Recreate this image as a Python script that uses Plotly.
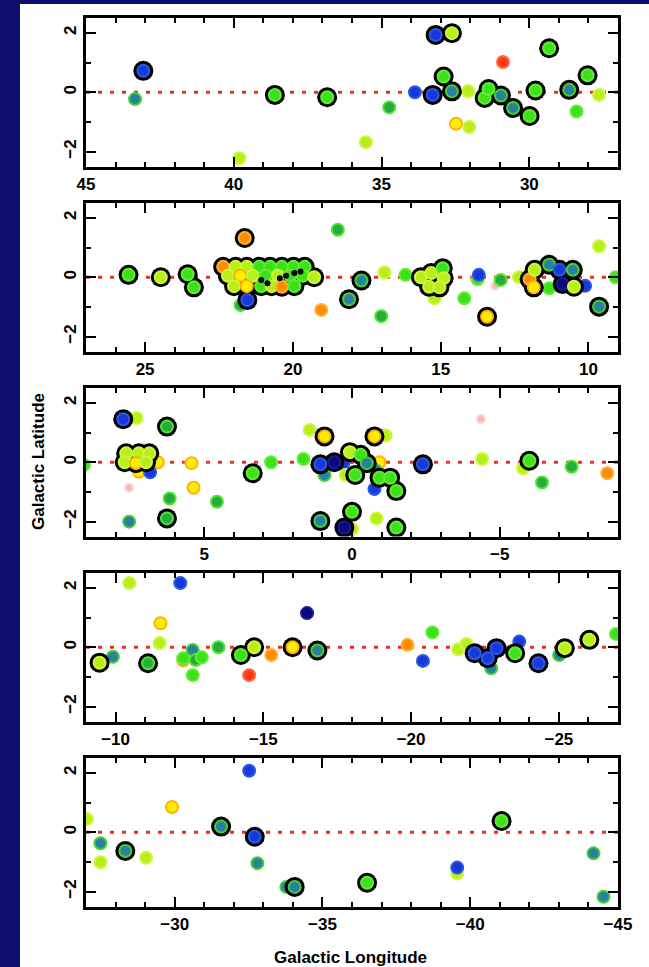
import plotly.graph_objects as go

# ---------------- data (galactic longitude, latitude, colour class, black ring) -------------
p1_lon = [43.06, 43.34, 38.61, 36.84, 39.81, 35.53, 34.74, 33.87, 33.27, 33.17, 32.62, 32.90, 32.62, 32.07,
          32.48, 32.03, 31.51, 31.38, 30.96, 30.89, 30.55, 29.99, 29.79, 29.33, 28.65, 28.40, 28.03, 27.64]
p1_lat = [0.72, -0.23, -0.09, -0.17, -2.22, -1.68, -0.51, 0.0, -0.09, 1.93, 1.99, 0.53, 0.03, 0.03,
          -1.06, -1.17, -0.19, 0.11, -0.11, 1.02, -0.53, -0.80, 0.06, 1.48, 0.08, -0.65, 0.57, -0.09]
p1_col = ['B', 'T', 'G', 'G', 'L', 'L', 'D', 'B', 'B', 'B', 'L', 'G', 'T', 'L',
          'Y', 'L', 'G', 'G', 'T', 'R', 'T', 'G', 'G', 'G', 'T', 'G', 'G', 'L']
p1_ring = [1, 0, 1, 1, 0, 0, 0, 0, 1, 1, 1, 1, 1, 0, 0, 0, 1, 1, 1, 0, 1, 1, 1, 1, 1, 0, 1, 0]

p2_lon = [25.56, 24.47, 23.56, 23.35,
          22.36, 21.94, 21.56, 21.14, 20.77, 20.37, 19.98, 19.60,
          22.20, 21.78, 21.36, 20.93, 20.51, 20.09, 19.67, 19.28,
          21.99, 21.56, 21.07, 20.72, 20.37, 19.95,
          21.77, 21.54, 21.63, 18.48, 19.04, 18.10, 17.68, 16.90, 17.01, 16.19,
          15.67, 15.32, 14.93, 14.90, 15.39, 15.04,
          15.21, 14.20, 13.75, 13.71, 13.43, 13.15, 12.97, 12.35,
          11.99, 11.82, 11.85, 11.33, 10.98, 10.87, 10.53, 10.49, 11.33, 10.11,
          9.64, 9.64, 9.08,
          21.07, 20.86, 20.44, 20.23, 19.95, 19.74]
p2_lat = [0.08, 0.0, 0.10, -0.34,
          0.35, 0.35, 0.35, 0.35, 0.35, 0.35, 0.35, 0.35,
          0.05, 0.05, 0.05, 0.05, 0.05, 0.05, 0.05, 0.0,
          -0.30, -0.30, -0.30, -0.30, -0.32, -0.30,
          -0.94, -0.77, 1.32, 1.60, -1.10, -0.74, -0.11, 0.16, -1.31, 0.08,
          0.0, 0.14, 0.30, -0.03, -0.32, -0.34,
          -0.71, -0.71, -0.07, 0.08, -1.33, -0.29, -0.09, 0.0,
          -0.07, 0.25, -0.34, 0.42, 0.25, -0.23, 0.25, -0.32, -0.37, -0.29,
          1.04, -0.99, 0.0,
          -0.09, -0.20, -0.03, 0.05, 0.14, 0.19]
p2_col = ['G', 'L', 'G', 'G',
          'O', 'L', 'L', 'G', 'G', 'G', 'G', 'G',
          'L', 'Y', 'L', 'G', 'L', 'G', 'G', 'L',
          'L', 'Y', 'G', 'L', 'O', 'G',
          'D', 'B', 'O', 'D', 'O', 'T', 'T', 'L', 'D', 'G',
          'L', 'L', 'G', 'L', 'L', 'L',
          'L', 'G', 'G', 'B', 'Y', 'P', 'D', 'L',
          'O', 'L', 'Y', 'T', 'B', 'N', 'T', 'L', 'G', 'B',
          'L', 'T', 'G',
          'K', 'K', 'K', 'K', 'K', 'K']
p2_ring = [1, 1, 1, 1,
           1, 1, 1, 1, 1, 1, 1, 1,
           1, 1, 1, 1, 1, 1, 1, 1,
           1, 1, 1, 1, 1, 1,
           0, 1, 1, 0, 0, 1, 1, 0, 0, 0,
           1, 1, 1, 1, 1, 1,
           0, 0, 0, 0, 1, 0, 0, 0,
           1, 1, 1, 1, 1, 1, 1, 1, 0, 0,
           0, 1, 0,
           0, 0, 0, 0, 0, 0]

p3_lon = [9.07, 7.74, 7.29, 7.64, 7.21, 6.86, 7.69, 7.31, 6.97, 7.21, 6.57, 6.83, 7.54, 7.54,
          6.26, 6.17, 6.26, 5.43, 5.36, 4.57, 3.36, 2.74, 1.64, 1.43, 0.93,
          1.07, 0.60, 0.07, -0.29, -0.11, -0.50, 0.29, 0.21, 0.93, -0.93, -0.79,
          -0.76, -1.14, -0.93, -1.29, -0.76, -1.50, -0.83, 0.0, 1.07, 0.0, 0.26, -1.50,
          -2.40, -4.40, -4.36, -5.79, -6.00, -6.43, -7.43, -8.64]
p3_lat = [-0.09, 1.45, 1.49, 0.30, 0.30, 0.30, 0.0, -0.03, 0.0, -0.32, 0.0, -0.34, -0.86, -2.00,
          1.20, -1.22, -1.89, -0.03, -0.86, -1.33, -0.37, 0.0, 0.11, 1.09, 0.87,
          -0.07, 0.0, 0.34, 0.25, -0.43, -0.03, -0.03, -0.43, -0.43, 0.0, -0.26,
          0.87, 0.90, -0.52, -0.52, -0.90, -0.97, -1.89, -1.67, -1.98, -2.25, -2.20, -2.20,
          -0.07, 0.11, 1.46, -0.20, 0.05, -0.68, -0.15, -0.37]
p3_col = ['G', 'B', 'L', 'L', 'L', 'L', 'L', 'Y', 'L', 'Y', 'Y', 'B', 'P', 'T',
          'D', 'D', 'D', 'Y', 'Y', 'D', 'G', 'G', 'G', 'L', 'Y',
          'B', 'N', 'L', 'G', 'G', 'T', 'B', 'L', 'T', 'Y', 'T',
          'Y', 'L', 'G', 'G', 'B', 'G', 'L', 'G', 'T', 'L', 'N', 'G',
          'B', 'L', 'P', 'L', 'G', 'D', 'D', 'O']
p3_ring = [0, 1, 0, 1, 1, 1, 1, 1, 1, 0, 0, 0, 0, 0,
           1, 0, 1, 0, 0, 0, 1, 0, 0, 0, 1,
           1, 1, 1, 1, 1, 1, 0, 0, 0, 0, 0,
           1, 0, 1, 1, 0, 1, 0, 1, 1, 0, 1, 1,
           1, 0, 0, 0, 1, 0, 0, 0]

p4_lon = [-9.46, -9.91, -10.47, -11.10, -11.52, -11.49, -12.19,
          -12.29, -12.29, -12.61, -12.71, -12.92, -12.61, -13.48,
          -14.24, -14.69, -14.52, -15.27, -15.99, -16.48, -16.83,
          -19.88, -20.40, -20.72, -21.59, -21.87, -22.15, -22.71, -22.59, -22.89,
          -23.52, -23.66, -24.31, -25.01, -25.20, -26.03, -26.93]
p4_lat = [-0.52, -0.32, 2.16, -0.54, 0.81, 0.14, 2.16,
          -0.45, -0.37, -0.09, -0.43, -0.34, -0.94, 0.0,
          -0.26, 0.0, -0.94, -0.26, 0.0, 1.15, -0.11,
          0.08, -0.46, 0.50, -0.07, 0.11, -0.20, -0.71, -0.37, -0.03,
          -0.20, 0.19, -0.54, -0.26, -0.03, 0.25, 0.45]
p4_col = ['L', 'T', 'L', 'D', 'Y', 'L', 'B',
          'O', 'G', 'T', 'D', 'G', 'G', 'D',
          'G', 'L', 'R', 'O', 'Y', 'N', 'T',
          'O', 'B', 'G', 'L', 'L', 'B', 'T', 'B', 'B',
          'G', 'B', 'B', 'T', 'L', 'L', 'G']
p4_ring = [1, 0, 0, 1, 0, 0, 0,
           0, 0, 0, 0, 0, 0, 0,
           1, 1, 0, 0, 1, 0, 1,
           0, 0, 0, 0, 0, 1, 0, 1, 1,
           1, 0, 1, 0, 1, 1, 0]

p5_lon = [-27.03, -27.49, -27.49, -28.33, -29.03, -29.91, -31.57, -32.52, -32.71, -32.80,
          -33.78, -34.06, -36.51, -39.56, -39.56, -41.06, -44.17, -44.51]
p5_lat = [0.45, -0.37, -1.01, -0.63, -0.86, 0.85, 0.19, 2.07, -0.15, -1.04,
          -1.84, -1.84, -1.70, -1.39, -1.19, 0.38, -0.71, -2.17]
p5_col = ['L', 'T', 'L', 'T', 'L', 'Y', 'T', 'B', 'B', 'T',
          'T', 'T', 'G', 'L', 'B', 'G', 'T', 'T']
p5_ring = [0, 0, 0, 1, 0, 0, 1, 0, 1, 0,
           0, 1, 1, 0, 0, 1, 0, 0]

x_ranges = [(45, 27), (27, 9), (9, -9), (-9, -27), (-27, -45)]
y_range = (-2.5, 2.5)

# ---------------- styles ----------------
NAVY = '#0e0e6c'
COL = {'G': '#3ee01c', 'L': '#b8ee1c', 'Y': '#ffee00', 'O': '#ff8c00', 'R': '#ff3a14',
       'B': '#1838dc', 'T': '#2a80a0', 'D': '#2aaa3c', 'N': '#0a0a7a', 'P': '#ffb4b4', 'K': '#000000'}
EDGE = {'G': '#5cf030', 'L': '#cdf73a', 'Y': '#ffb400', 'O': '#ffb030', 'R': '#ff6a40',
        'B': '#2a5ae6', 'T': '#44d030', 'D': '#48e830', 'N': '#1818a0', 'P': '#ffd6d6', 'K': '#000000'}
SIZE = {'P': 8, 'K': 4}

W, H = 649, 967
ML, MR, MT, MB = 86, 31, 18, 60
PW, PH = W - ML - MR, H - MT - MB
panel_top = [18, 203, 388, 573, 758]
panel_h = 148.5


def py(px):
    return (H - MB - px) / PH


def pxx(px):
    return (px - ML) / PW


fig = go.Figure()
panels = [(p1_lon, p1_lat, p1_col, p1_ring), (p2_lon, p2_lat, p2_col, p2_ring),
          (p3_lon, p3_lat, p3_col, p3_ring), (p4_lon, p4_lat, p4_col, p4_ring),
          (p5_lon, p5_lat, p5_col, p5_ring)]

tickfont = dict(family='Liberation Sans', size=17, color='black', weight='bold')
shapes = [dict(type='rect', xref='paper', yref='paper', x0=pxx(20), x1=pxx(W + 2),
               y0=py(H + 2), y1=py(4), fillcolor='white', line=dict(width=0), layer='below')]

for i, (lon, lat, col, ring) in enumerate(panels):
    n = '' if i == 0 else str(i + 1)
    xa, ya = 'x' + n, 'y' + n

    def sub(cond):
        idx = [k for k in range(len(lon)) if cond(k)]
        return ([lon[k] for k in idx], [lat[k] for k in idx],
                [COL[col[k]] for k in idx], [EDGE[col[k]] for k in idx],
                [SIZE.get(col[k], 12) for k in idx])

    groups = [lambda k: ring[k] == 0 and col[k] != 'K', 'RING',
              lambda k: ring[k] == 1, lambda k: col[k] == 'K']
    for g in groups:
        if g == 'RING':
            rx = [lon[k] for k in range(len(lon)) if ring[k]]
            ry = [lat[k] for k in range(len(lon)) if ring[k]]
            fig.add_trace(go.Scatter(x=rx, y=ry, mode='markers', xaxis=xa, yaxis=ya,
                                     marker=dict(size=20, color='black', opacity=1, line=dict(width=0)),
                                     showlegend=False, hoverinfo='skip'))
        else:
            x, y, c, e, s = sub(g)
            fig.add_trace(go.Scatter(x=x, y=y, mode='markers', xaxis=xa, yaxis=ya,
                                     marker=dict(size=s, color=c, opacity=1,
                                                 line=dict(color=e, width=2)),
                                     showlegend=False, hoverinfo='skip'))

    top = panel_top[i]
    common = dict(ticks='inside', ticklen=10, tickwidth=2, tickcolor='black', showline=True,
                  linewidth=2.5, linecolor='black', mirror='ticks', showgrid=False, zeroline=False,
                  tickfont=tickfont, tickmode='linear', tick0=0)
    minor = dict(ticks='inside', ticklen=5, tickwidth=2, tickcolor='black', showgrid=False, dtick=1, tick0=0)
    fig.update_layout(**{
        'xaxis' + n: dict(domain=[0, 1], range=list(x_ranges[i]), anchor=ya, dtick=5,
                          minor=minor, **common),
        'yaxis' + n: dict(domain=[py(top + panel_h), py(top)], range=list(y_range), anchor=xa,
                          dtick=2, tickangle=-90, minor=minor, **common),
    })
    shapes.append(dict(type='line', xref=xa + ' domain', x0=0, x1=1, yref=ya, y0=0, y1=0,
                       line=dict(color='#e8321e', width=3, dash='4px,8px'), layer='below'))

fig.update_layout(
    width=W, height=H, margin=dict(l=ML, r=MR, t=MT, b=MB),
    paper_bgcolor=NAVY, plot_bgcolor='white', shapes=shapes,
    annotations=[
        dict(text='Galactic Latitude', xref='paper', yref='paper', x=pxx(38), y=py(462),
             textangle=-90, showarrow=False, xanchor='center', yanchor='middle',
             font=dict(family='Liberation Sans', size=17, color='black', weight='bold')),
        dict(text='Galactic Longitude', xref='paper', yref='paper', x=pxx(350), y=py(957),
             showarrow=False, xanchor='center', yanchor='middle',
             font=dict(family='Liberation Sans', size=17, color='black', weight='bold')),
    ],
)

fig.write_html('out.html')
